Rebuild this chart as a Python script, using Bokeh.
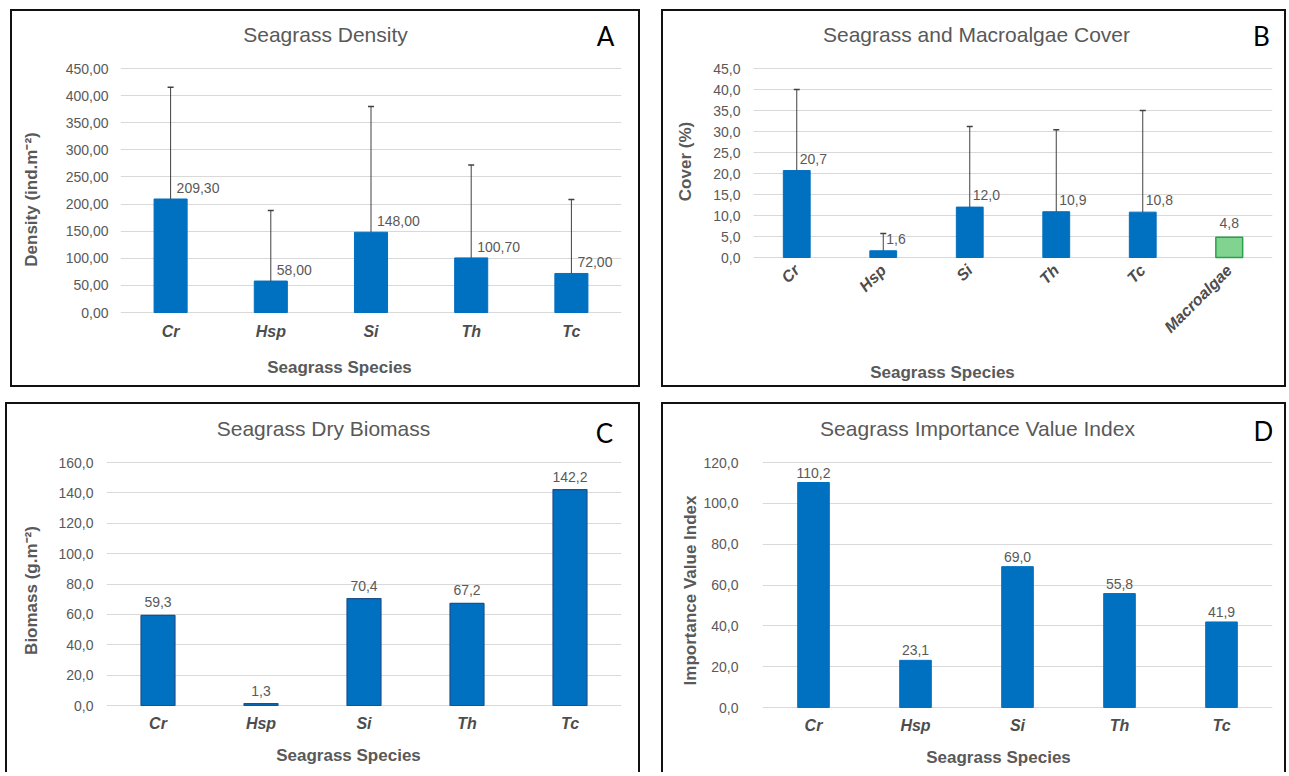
import math
from bokeh.plotting import figure
from bokeh.models import (ColumnDataSource, Range1d, FactorRange, FixedTicker,
                          CustomJSTickFormatter, LabelSet, Label, Whisker, TeeHead, Spacer)
from bokeh.layouts import row, column
from bokeh.core.properties import value
from bokeh.embed import file_html
from bokeh.resources import INLINE

# ---------------- data ----------------
species = ["Cr", "Hsp", "Si", "Th", "Tc"]

density = [209.30, 58.00, 148.00, 100.70, 72.00]
density_sd = [206.2, 130.0, 232.0, 171.3, 136.5]
density_ticks = [0, 50, 100, 150, 200, 250, 300, 350, 400, 450]

cover_cats = ["Cr", "Hsp", "Si", "Th", "Tc", "Macroalgae"]
cover = [20.7, 1.6, 12.0, 10.9, 10.8, 4.8]
cover_sd = [19.3, 4.1, 19.2, 19.5, 24.2]          # seagrass species only
cover_ticks = [0, 5, 10, 15, 20, 25, 30, 35, 40, 45]

biomass = [59.3, 1.3, 70.4, 67.2, 142.2]
biomass_ticks = [0, 20, 40, 60, 80, 100, 120, 140, 160]

ivi = [110.2, 23.1, 69.0, 55.8, 41.9]
ivi_ticks = [0, 20, 40, 60, 80, 100, 120]

# ---------------- style ----------------
FONT = "Liberation Sans"
TXT = "#595959"
CAT = "#4D4D4D"
GRID = "#D9D9D9"
BLUE = "#0070C0"
GREEN = "#80D48F"
GREEN_LINE = "#2CA04A"
ERR = "#404040"
BW = 2
LINE = f"{BW}px solid #111111"


def fmt(v, d):
    return f"{v:.{d}f}".replace(".", ",")


def style_axes(p, ticks, decimals, ylab_standoff, xlab_standoff):
    p.outline_line_color = None
    p.xgrid.grid_line_color = None
    p.yaxis.ticker = FixedTicker(ticks=ticks)
    p.yaxis.bounds = (ticks[0], ticks[-1])
    p.yaxis.formatter = CustomJSTickFormatter(
        code=f"return tick.toFixed({decimals}).replace('.', ',');")
    for ax in (p.xaxis, p.yaxis):
        ax.axis_line_color = None
        ax.major_tick_line_color = None
        ax.minor_tick_line_color = None
        ax.major_tick_out = 0
        ax.major_tick_in = 0
    p.xaxis.fixed_location = 0
    p.yaxis.major_label_text_font = FONT
    p.yaxis.major_label_text_font_size = "14px"
    p.yaxis.major_label_text_color = TXT
    p.yaxis.major_label_standoff = ylab_standoff
    p.xaxis.major_label_text_font = FONT
    p.xaxis.major_label_text_font_size = "16px"
    p.xaxis.major_label_text_font_style = "bold italic"
    p.xaxis.major_label_text_color = CAT
    p.xaxis.major_label_standoff = xlab_standoff


class Panel:
    """Geometry helper: all positions are page pixels of the reference layout.
    The box (ox, oy, ow, oh) is the bordered box; the canvas (ow x oh) starts
    just inside the CSS border."""

    def __init__(self, x_range, ox, oy, ow, oh, bottom_border, fl, fr, zero, top_px, ticks,
                 mbb):
        self.cx, self.cy = ox + BW, oy + BW
        self.fl = fl
        mbt = 2
        self.ftop = self.cy + mbt
        self.fbot = self.cy + oh - mbb
        k = (zero - top_px) / ticks[-1]
        y0 = -(self.fbot - zero) / k
        y1 = (zero - self.ftop) / k
        styles = {"border": LINE} if bottom_border else {
            "border-top": LINE, "border-left": LINE, "border-right": LINE}
        self.p = figure(x_range=x_range, y_range=Range1d(y0, y1),
                        width=ow, height=oh, output_backend="svg", toolbar_location=None,
                        title=None, min_border_left=fl - self.cx,
                        min_border_right=self.cx + ow - fr, min_border_top=mbt,
                        min_border_bottom=mbb, background_fill_color="white",
                        border_fill_color="white")
        self.p.styles = styles

    def text(self, txt, ax, ay, size, color, style="normal", font=FONT, angle=0):
        self.p.add_layout(Label(x=ax - self.fl, y=self.fbot - ay, x_units="screen",
                                y_units="screen", text=txt, text_align="center",
                                text_baseline="middle", text_font=font, angle=angle,
                                text_font_size=size, text_font_style=style,
                                text_color=color))

    def titles(self, title, tx, ty, letter, lx, ly, xtitle, xx, xy):
        self.text(title, tx, ty, "21px", TXT)
        self.text(letter, lx, ly, "26px", "#000000", font="Lato")
        self.text(xtitle, xx, xy, "17px", TXT, style="bold")


def ytitle_axis(p, text, standoff):
    p.yaxis.axis_label = text
    p.yaxis.axis_label_text_font = FONT
    p.yaxis.axis_label_text_font_size = "17px"
    p.yaxis.axis_label_text_font_style = "bold"
    p.yaxis.axis_label_text_color = TXT
    p.yaxis.axis_label_standoff = standoff


def whisker(src, base):
    return Whisker(source=src, base=base, upper="upper", lower="val", dimension="height",
                   line_color=ERR, line_width=1, level="annotation", lower_head=None,
                   upper_head=TeeHead(size=6, line_color=ERR, line_width=1.5))


def labels(src, xcol, align, dx, dy):
    return LabelSet(source=src, x=xcol, y="val", text="lab", x_offset=dx, y_offset=dy,
                    text_align=align, text_baseline="middle", text_font=value(FONT),
                    text_font_size="14px", text_color=TXT)


TOP_H = 378     # bordered height of the upper panels
LOW_H = 370     # height of the lower panels (their bottom edge is cut off)

# ---------------- A: density ----------------
A = Panel(FactorRange(factors=species), 10, 9, 630, TOP_H, True, 120, 621, 312, 68,
          density_ticks, mbb=4)
style_axes(A.p, density_ticks, 2, 12, 10)
A.p.ygrid.grid_line_color = GRID
ytitle_axis(A.p, "Density (ind.m\u207b\u00b2)", 22)
srcA = ColumnDataSource(dict(cat=species, val=density,
                             upper=[v + s for v, s in zip(density, density_sd)],
                             lab=[fmt(v, 2) for v in density]))
A.p.vbar(x="cat", top="val", width=0.33, source=srcA, fill_color=BLUE, line_color=BLUE)
A.p.add_layout(whisker(srcA, "cat"))
A.p.add_layout(labels(srcA, "cat", "left", 6, 11))
A.titles("Seagrass Density", 325, 34, "A", 605, 35, "Seagrass Species", 339, 367)

# ---------------- B: cover (numeric category axis so the y title can sit freely) ----
n_cov = len(cover_cats)
b_plot_left, b_plot_right = 753, 1272
b_frame_left = 663
b_step = (b_plot_right - b_plot_left) / n_cov
B = Panel(Range1d(-(b_plot_left - b_frame_left) / b_step, n_cov), 661, 9, 625, TOP_H, True,
          b_frame_left, b_plot_right, 257, 68, cover_ticks, mbb=4)
style_axes(B.p, cover_ticks, 1, 13, 10)
B.p.ygrid.grid_line_color = None
B.p.yaxis.fixed_location = 0
cover_x = [i + 0.5 for i in range(n_cov)]
B.p.xaxis.ticker = FixedTicker(ticks=cover_x)
B.p.xaxis.formatter = CustomJSTickFormatter(args=dict(cats=cover_cats),
                                            code="return cats[Math.floor(tick)];")
B.p.xaxis.major_label_orientation = math.pi / 4
B.p.segment(x0=[0] * len(cover_ticks), x1=[n_cov] * len(cover_ticks), y0=cover_ticks,
            y1=cover_ticks, line_color=GRID, line_width=1)
n_sg = len(cover_sd)
n_alg = n_cov - n_sg
srcB = ColumnDataSource(dict(x=cover_x, val=cover,
                             fill=[BLUE] * n_sg + [GREEN] * n_alg,
                             line=[BLUE] * n_sg + [GREEN_LINE] * n_alg,
                             lw=[1] * n_sg + [1.5] * n_alg))
B.p.vbar(x="x", top="val", width=0.31, source=srcB, fill_color="fill", line_color="line",
         line_width="lw")
srcB_err = ColumnDataSource(dict(x=cover_x[:n_sg], val=cover[:n_sg],
                                 upper=[v + s for v, s in zip(cover[:n_sg], cover_sd)],
                                 lab=[fmt(v, 1) for v in cover[:n_sg]]))
B.p.add_layout(whisker(srcB_err, "x"))
B.p.add_layout(labels(srcB_err, "x", "left", 3, 12))
srcB_alg = ColumnDataSource(dict(x=cover_x[n_sg:], val=cover[n_sg:],
                                 lab=[fmt(v, 1) for v in cover[n_sg:]]))
B.p.add_layout(labels(srcB_alg, "x", "center", 0, 14))
B.titles("Seagrass and Macroalgae Cover", 976, 34, "B", 1261, 35, "Seagrass Species", 942, 372)
B.text("Cover (%)", 685, 161, "17px", TXT, style="bold", angle=math.pi / 2)

# ---------------- C: biomass ----------------
C = Panel(FactorRange(factors=species), 5, 402, 635, LOW_H, False, 106, 621, 705, 462,
          biomass_ticks, mbb=0)
style_axes(C.p, biomass_ticks, 1, 13, 9)
C.p.ygrid.grid_line_color = GRID
ytitle_axis(C.p, "Biomass (g.m\u207b\u00b2)", 14)
srcC = ColumnDataSource(dict(cat=species, val=biomass, lab=[fmt(v, 1) for v in biomass]))
C.p.vbar(x="cat", top="val", width=0.33, source=srcC, fill_color=BLUE, line_color="#1F4E8C",
         line_width=1.2)
C.p.add_layout(labels(srcC, "cat", "center", 0, 13))
C.titles("Seagrass Dry Biomass", 323, 428, "C", 604, 432, "Seagrass Species", 348, 755)

# ---------------- D: IVI ----------------
D = Panel(FactorRange(factors=species), 661, 402, 625, LOW_H, False, 762, 1272, 707, 462,
          ivi_ticks, mbb=0)
style_axes(D.p, ivi_ticks, 1, 24, 9)
D.p.ygrid.grid_line_color = GRID
ytitle_axis(D.p, "Importance Value Index", 0)
srcD = ColumnDataSource(dict(cat=species, val=ivi, lab=[fmt(v, 1) for v in ivi]))
D.p.vbar(x="cat", top="val", width=0.31, source=srcD, fill_color=BLUE, line_color=BLUE)
D.p.add_layout(labels(srcD, "cat", "center", 0, 10))
D.titles("Seagrass Importance Value Index", 977, 428, "D", 1263, 430,
         "Seagrass Species", 998, 757)

layout = column(
    Spacer(height=9),
    row(Spacer(width=10), A.p, Spacer(width=21), B.p),
    Spacer(height=15),
    row(Spacer(width=5), C.p, Spacer(width=21), D.p),
)

open("out.html", "w").write(file_html(layout, INLINE))
